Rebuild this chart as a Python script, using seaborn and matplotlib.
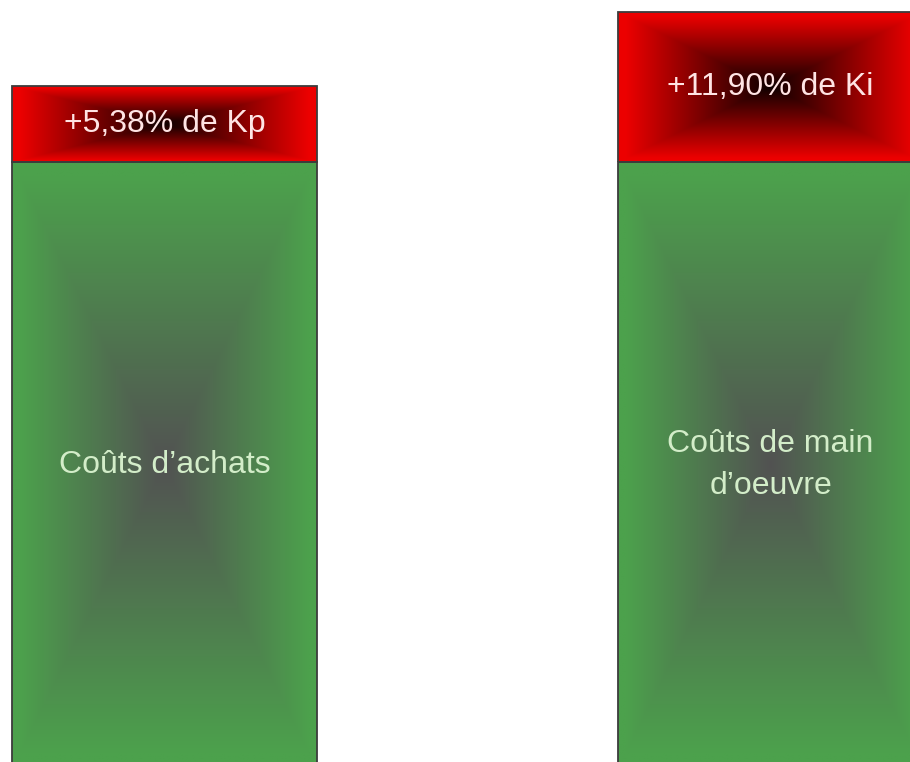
import numpy as np
import pandas as pd
import matplotlib
matplotlib.use("Agg")
import matplotlib.pyplot as plt
import seaborn as sns

# Cost categories: base cost (green) plus the surcharge stacked on top (red)
categories = ["achats", "main d'oeuvre"]
base_cost = [100.0, 100.0]
surcharge = [12.5, 24.7]
base_labels = ["Coûts d’achats", "Coûts de main\nd’oeuvre"]
surcharge_labels = ["+5,38% de Kp", "+11,90% de Ki"]

df = pd.DataFrame({
    "categorie": categories,
    "base": base_cost,
    "total": [b + s for b, s in zip(base_cost, surcharge)],
})

sns.set_theme(style="white")
plt.rcParams["font.family"] = ["Liberation Sans", "DejaVu Sans"]

fig = plt.figure(figsize=(9.10, 7.62), dpi=100)
ax = fig.add_axes([0, 0, 1, 1])

bar_width = 0.503
sns.barplot(data=df, x="categorie", y="total", color="red", width=bar_width, ax=ax)
sns.barplot(data=df, x="categorie", y="base", color="green", width=bar_width, ax=ax)

GREEN_EDGE = np.array([76, 161, 76]) / 255
GREEN_CORE = np.array([82, 82, 82]) / 255
RED_EDGE = np.array([236, 0, 0]) / 255
RED_CORE = np.array([15, 0, 0]) / 255


def path_gradient(edge, core, nx=300, ny=300):
    """Rectangular path gradient: dark core fading to the edge colour."""
    u = np.linspace(-1, 1, nx)
    v = np.linspace(-1, 1, ny)
    U, V = np.meshgrid(u, v)
    t = np.clip(np.maximum(np.abs(U), np.abs(V)) / 0.95, 0, 1)
    return core + (edge - core) * t[..., None]


n = len(categories)
patches = list(ax.patches)
for i, p in enumerate(patches):
    is_base = i >= n
    x0, y0 = p.get_x(), p.get_y()
    w, h = p.get_width(), p.get_height()
    if not is_base:
        # upper bar only covers the surcharge part above the base
        y0 = base_cost[i]
        h = surcharge[i]
        p.set_y(y0)
        p.set_height(h)
    img = path_gradient(GREEN_EDGE if is_base else RED_EDGE,
                        GREEN_CORE if is_base else RED_CORE)
    im = ax.imshow(img, extent=(x0, x0 + w, y0, y0 + h), origin="lower",
                   aspect="auto", interpolation="bilinear", zorder=2)
    im.set_clip_path(p)
    p.set_facecolor("none")
    p.set_edgecolor("#3c3c3c")
    p.set_linewidth(1.3)
    p.set_zorder(3)

for i in range(n):
    ax.text(i, base_cost[i] / 2, base_labels[i], ha="center", va="center",
            fontsize=23, color="#d3edc9", linespacing=1.5, zorder=4)
    ax.text(i, base_cost[i] + surcharge[i] / 2, surcharge_labels[i],
            ha="center", va="center", fontsize=23, color="#ffe4e4", zorder=4)

ax.set_xlim(-0.2715, 1.230)
ax.set_ylim(1.0, 126.7)
ax.axis("off")

fig.savefig("out.png", dpi=100, facecolor="white")
